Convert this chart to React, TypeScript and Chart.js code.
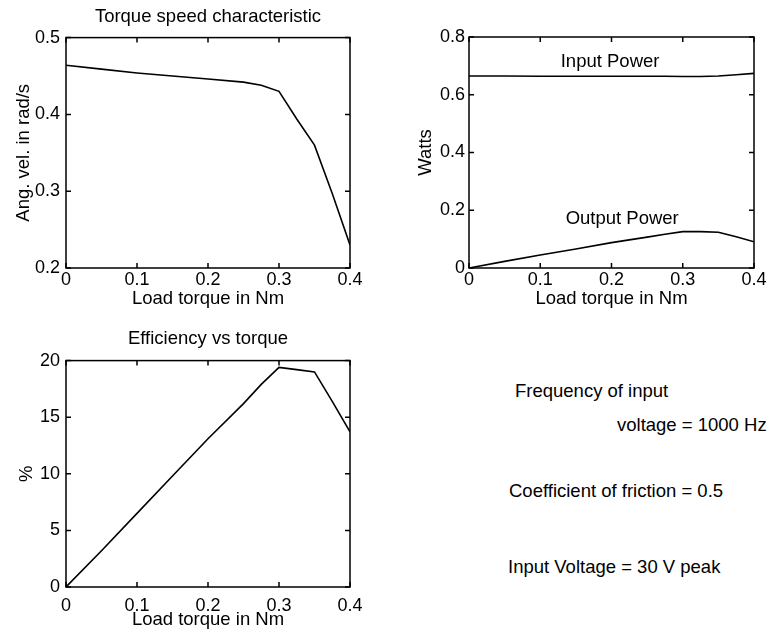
import React, { useEffect, useRef } from "react";
import { Chart, registerables } from "chart.js";

Chart.register(...registerables);

// ---- data ----
const torque = [0, 0.05, 0.1, 0.15, 0.2, 0.25, 0.275, 0.3, 0.325, 0.35, 0.375, 0.4];
const angVel = [0.464, 0.459, 0.454, 0.45, 0.446, 0.442, 0.438, 0.43, 0.394, 0.36, 0.297, 0.23];
const inputPower = [0.665, 0.665, 0.664, 0.664, 0.664, 0.664, 0.664, 0.663, 0.663, 0.665, 0.669, 0.674];
const outputPower = [0, 0.023, 0.045, 0.066, 0.088, 0.107, 0.117, 0.126, 0.126, 0.124, 0.108, 0.091];
const efficiency = [0, 3.2, 6.5, 9.8, 13.1, 16.2, 17.9, 19.4, 19.2, 19.0, 16.4, 13.7];

const torqueTicks = [0, 0.1, 0.2, 0.3, 0.4];
const speedTicks = [0.2, 0.3, 0.4, 0.5];
const powerTicks = [0, 0.2, 0.4, 0.6, 0.8];
const effTicks = [0, 5, 10, 15, 20];

const titles = ["Torque speed characteristic", "Efficiency vs torque"];
const xTitle = "Load torque in Nm";
const yTitles = ["Ang. vel. in rad/s", "Watts", "%"];
const seriesNames = ["Input Power", "Output Power"];
const notes = [
  "Frequency of input",
  "voltage = 1000 Hz",
  "Coefficient of friction = 0.5",
  "Input Voltage = 30 V peak",
];

const FONT = '"Liberation Sans", Arial, Helvetica, sans-serif';

const fmt = (v: number) => String(Number(Number(v).toFixed(3)));

const framePlugin = {
  id: "frame",
  afterDraw(chart: any, _args: any, opts: any) {
    const { ctx, chartArea: a, scales } = chart;
    ctx.save();
    ctx.strokeStyle = "#000";
    ctx.lineWidth = 1.5;
    ctx.strokeRect(a.left, a.top, a.right - a.left, a.bottom - a.top);
    const len = 5;
    ctx.beginPath();
    scales.x.ticks.forEach((t: any) => {
      const px = scales.x.getPixelForValue(t.value);
      ctx.moveTo(px, a.bottom);
      ctx.lineTo(px, a.bottom - len);
      ctx.moveTo(px, a.top);
      ctx.lineTo(px, a.top + len);
    });
    scales.y.ticks.forEach((t: any) => {
      const py = scales.y.getPixelForValue(t.value);
      ctx.moveTo(a.left, py);
      ctx.lineTo(a.left + len, py);
      ctx.moveTo(a.right, py);
      ctx.lineTo(a.right - len, py);
    });
    ctx.stroke();
    const labels = (opts && opts.labels) || [];
    ctx.fillStyle = "#000";
    ctx.font = `18.5px ${FONT}`;
    ctx.textAlign = "center";
    ctx.textBaseline = "middle";
    labels.forEach((l: any) => {
      ctx.fillText(l.text, scales.x.getPixelForValue(l.x), scales.y.getPixelForValue(l.y));
    });
    ctx.restore();
  },
};

type P = {
  title?: string;
  titlePad?: { top: number; bottom: number };
  yTitle: string;
  yTitlePad: number;
  yWidth: number;
  yTickPad: number;
  xHeight: number;
  xTickPad: number;
  xTitlePadBottom: number;
  padding: { top: number; left: number; right: number; bottom: number };
  yTicks: number[];
  series: number[][];
  labels?: { text: string; x: number; y: number }[];
};

function makeConfig(p: P): any {
  return {
    type: "line",
    data: {
      datasets: p.series.map((s) => ({
        data: torque.map((x, i) => ({ x, y: s[i] })),
        borderColor: "#000",
        borderWidth: 1.6,
        pointRadius: 0,
        tension: 0,
        fill: false,
      })),
    },
    options: {
      responsive: false,
      maintainAspectRatio: false,
      animation: false,
      layout: { padding: p.padding },
      plugins: {
        legend: { display: false },
        tooltip: { enabled: false },
        title: p.title
          ? {
              display: true,
              text: p.title,
              fullSize: false,
              color: "#000",
              font: { family: FONT, size: 18.5, weight: "normal" },
              padding: p.titlePad,
            }
          : { display: false },
        frame: { labels: p.labels || [] },
      },
      scales: {
        x: {
          type: "linear",
          min: 0,
          max: 0.4,
          afterBuildTicks: (s: any) => {
            s.ticks = torqueTicks.map((v) => ({ value: v }));
          },
          afterFit: (s: any) => {
            s.height = p.xHeight;
          },
          grid: { display: false, drawTicks: false },
          border: { display: false },
          ticks: {
            color: "#000",
            padding: p.xTickPad,
            maxRotation: 0,
            autoSkip: false,
            font: { family: FONT, size: 18 },
            callback: (v: any) => fmt(v),
          },
          title: {
            display: true,
            text: xTitle,
            color: "#000",
            font: { family: FONT, size: 18.5 },
            padding: { top: 0, bottom: p.xTitlePadBottom },
          },
        },
        y: {
          type: "linear",
          min: p.yTicks[0],
          max: p.yTicks[p.yTicks.length - 1],
          afterBuildTicks: (s: any) => {
            s.ticks = p.yTicks.map((v) => ({ value: v }));
          },
          afterFit: (s: any) => {
            s.width = p.yWidth;
          },
          grid: { display: false, drawTicks: false },
          border: { display: false },
          ticks: {
            color: "#000",
            padding: p.yTickPad,
            autoSkip: false,
            font: { family: FONT, size: 18 },
            callback: (v: any) => fmt(v),
          },
          title: {
            display: true,
            text: p.yTitle,
            color: "#000",
            font: { family: FONT, size: 18.5 },
            padding: { top: p.yTitlePad, bottom: 0 },
          },
        },
      },
    },
    plugins: [framePlugin],
  };
}

function ChartBox({ left, top, width, height, config }: any) {
  const ref = useRef<HTMLCanvasElement>(null);
  useEffect(() => {
    if (!ref.current) return;
    const c = new Chart(ref.current, config);
    return () => c.destroy();
  }, []);
  return (
    <canvas
      ref={ref}
      width={width}
      height={height}
      style={{ position: "absolute", left, top, width, height }}
    />
  );
}

const cfg1 = makeConfig({
  title: titles[0],
  titlePad: { top: 6.2, bottom: 9.2 },
  yTitle: yTitles[0],
  yTitlePad: 13.2,
  yWidth: 66,
  yTickPad: 6,
  xHeight: 52,
  xTickPad: 1,
  xTitlePadBottom: 9.7,
  padding: { top: 0, left: 0, right: 35, bottom: 0 },
  yTicks: speedTicks,
  series: [angVel],
});

const cfg2 = makeConfig({
  yTitle: yTitles[1],
  yTitlePad: 30.2,
  yWidth: 84,
  yTickPad: 4,
  xHeight: 52,
  xTickPad: 1,
  xTitlePadBottom: 9.7,
  padding: { top: 37, left: 0, right: 16, bottom: 0 },
  yTicks: powerTicks,
  series: [inputPower, outputPower],
  labels: [
    { text: seriesNames[0], x: 0.198, y: 0.715 },
    { text: seriesNames[1], x: 0.215, y: 0.171 },
  ],
});

const cfg3 = makeConfig({
  title: titles[1],
  titlePad: { top: 8.2, bottom: 10.2 },
  yTitle: yTitles[2],
  yTitlePad: 15.7,
  yWidth: 66,
  yTickPad: 6,
  xHeight: 48,
  xTickPad: 8.2,
  xTitlePadBottom: 3.7,
  padding: { top: 0, left: 0, right: 35, bottom: 0 },
  yTicks: effTicks,
  series: [efficiency],
});

const notePos = [
  { left: 515, top: 380.5 },
  { left: 617, top: 414.8 },
  { left: 509, top: 480.5 },
  { left: 508, top: 556.8 },
];

export default function App() {
  return (
    <div
      style={{
        position: "absolute",
        left: 0,
        top: 0,
        width: 770,
        height: 635,
        background: "#fff",
        overflow: "hidden",
      }}
    >
      <ChartBox left={0} top={0} width={385} height={320} config={cfg1} />
      <ChartBox left={385} top={0} width={385} height={320} config={cfg2} />
      <ChartBox left={0} top={320} width={385} height={315} config={cfg3} />
      {notes.map((n, i) => (
        <div
          key={i}
          style={{
            position: "absolute",
            left: notePos[i].left,
            top: notePos[i].top,
            font: `18.5px/20px ${FONT}`,
            color: "#000",
            whiteSpace: "nowrap",
          }}
        >
          {n}
        </div>
      ))}
    </div>
  );
}
